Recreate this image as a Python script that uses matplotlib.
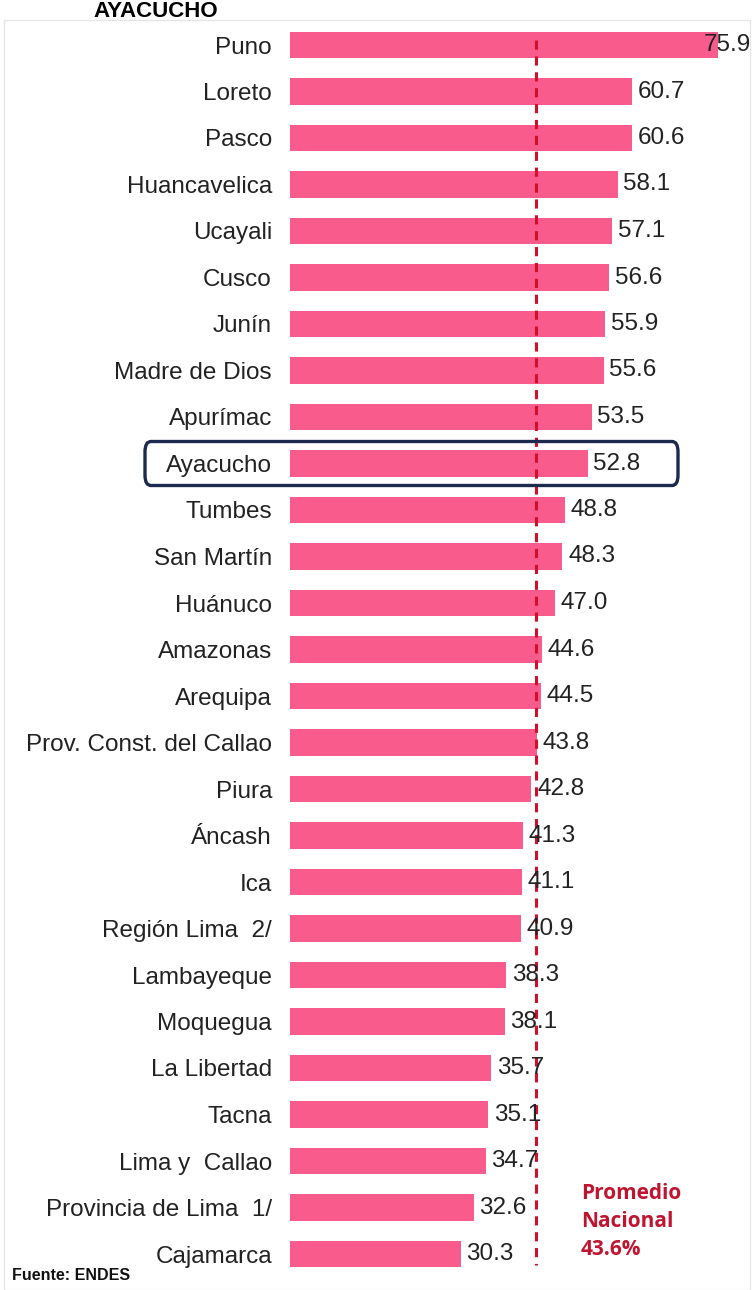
import matplotlib
matplotlib.use("Agg")
import matplotlib.pyplot as plt
from matplotlib.patches import FancyBboxPatch, Rectangle

regions = ["Puno", "Loreto", "Pasco", "Huancavelica", "Ucayali", "Cusco", "Junín",
           "Madre de Dios", "Apurímac", "Ayacucho", "Tumbes", "San Martín", "Huánuco",
           "Amazonas", "Arequipa", "Prov. Const. del Callao", "Piura", "Áncash", "Ica",
           "Región Lima  2/", "Lambayeque", "Moquegua", "La Libertad", "Tacna",
           "Lima y  Callao", "Provincia de Lima  1/", "Cajamarca"]
values = [75.9, 60.7, 60.6, 58.1, 57.1, 56.6, 55.9, 55.6, 53.5, 52.8, 48.8, 48.3, 47.0,
          44.6, 44.5, 43.8, 42.8, 41.3, 41.1, 40.9, 38.3, 38.1, 35.7, 35.1, 34.7, 32.6, 30.3]
national_avg = 43.6
highlight = "Ayacucho"

W, H = 754, 1290
fig = plt.figure(figsize=(W / 100, H / 100), dpi=100)
fig.patch.set_facecolor("white")

ax_left = 290
ax = fig.add_axes([ax_left / W, 0, 1 - ax_left / W, 1])
px_per_unit = 5.64
ax.set_xlim(0, (W - ax_left) / px_per_unit)
row0, step = 45, 46.5
ax.set_ylim((H - row0) / step, -row0 / step)

ypos = list(range(len(regions)))
ax.barh(ypos, values, height=0.56, color="#fa5b8d", zorder=2)

xmax_lab = (W - ax_left - 50) / px_per_unit
for y, v in zip(ypos, values):
    x = v + 1.0
    ax.text(min(x, xmax_lab), y, f"{v:.1f}", va="center", ha="left",
            fontsize=17.5, color="#222222", family="Liberation Sans", zorder=4)

ax.set_yticks(ypos)
ax.set_yticklabels(regions, fontsize=17.5, color="#222222", family="Liberation Sans")
ax.tick_params(axis="y", length=0, pad=13)
ax.set_xticks([])
for s in ax.spines.values():
    s.set_visible(False)

ax.vlines(national_avg, -0.11, 26.24, colors="#d0102a", linestyles=(0, (3, 2.2)),
          linewidth=2.2, zorder=3)

ax.text(51.6, 25.3, "Promedio\nNacional\n43.6%", ha="left", va="center",
        fontsize=15, fontweight="bold", color="#c01530", family="Open Sans",
        linespacing=1.42)

# highlight box around Ayacucho
hi = regions.index(highlight)
cy = row0 + step * hi
box = FancyBboxPatch((145 / W, 1 - (cy + 22) / H), 533 / W, 44 / H,
                     boxstyle="round,pad=0,rounding_size=0.008",
                     transform=fig.transFigure, fill=False,
                     edgecolor="#1b2a4e", linewidth=2.4, zorder=10)
fig.patches.append(box)

# faint frame
frame = Rectangle((4 / W, 0.0), (W - 8) / W, 1 - 20 / H, transform=fig.transFigure,
                  fill=False, edgecolor="#e6e6e6", linewidth=1.0)
fig.patches.append(frame)

fig.text(156 / W, 1 - 1 / H, "AYACUCHO", ha="center", va="top", fontsize=16,
         fontweight="heavy", family="Liberation Sans", color="black")
fig.text(12 / W, 1 - 1276 / H, "Fuente: ENDES", ha="left", va="center", fontsize=11.5,
         fontweight="bold", family="Liberation Sans", color="#111111")

fig.savefig("out.png", dpi=100)
